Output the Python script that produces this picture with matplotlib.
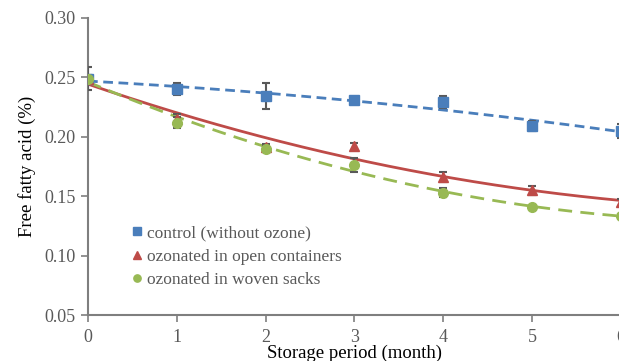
import matplotlib
matplotlib.use("Agg")
import matplotlib.pyplot as plt
import numpy as np

months = [0, 1, 2, 3, 4, 5, 6]

control = [0.249, 0.240, 0.234, 0.231, 0.229, 0.209, 0.205]
control_err = [0.010, 0.005, 0.011, 0.002, 0.005, 0.004, 0.006]

open_cont = [0.249, 0.215, 0.191, 0.192, 0.166, 0.155, 0.145]
open_err = [0.003, 0.004, 0.003, 0.003, 0.004, 0.004, 0.003]

woven = [0.249, 0.212, 0.190, 0.176, 0.153, 0.141, 0.133]
woven_err = [0.003, 0.005, 0.003, 0.006, 0.004, 0.001, 0.002]

blue = "#4a7ebb"
red = "#be4b48"
green = "#98b954"
grey = "#595959"

plt.rcParams['font.family'] = ['Liberation Serif', 'DejaVu Serif']

fig = plt.figure(figsize=(6.19, 3.61), dpi=100)
ax = fig.add_axes([88 / 619, 1 - 315 / 361, (621 - 88) / 619, (315 - 18) / 361])

x = np.array(months)
xs = np.linspace(0, 6, 200)

# trend lines (2nd order polynomial fits)
for y, col, ls in [(control, blue, (0, (3.5, 2))), (open_cont, red, '-'), (woven, green, (0, (5, 3)))]:
    c = np.polyfit(x, y, 2)
    ax.plot(xs, np.polyval(c, xs), color=col, lw=2, linestyle=ls, zorder=2)

ax.errorbar(x, control, yerr=control_err, fmt='s', color=blue, ms=7,
            ecolor=grey, elinewidth=1.5, capsize=3, capthick=1.5, zorder=3,
            label='control (without ozone)')
ax.errorbar(x, open_cont, yerr=open_err, fmt='^', color=red, ms=7,
            ecolor=grey, elinewidth=1.5, capsize=3, capthick=1.5, zorder=3,
            label='ozonated in open containers')
ax.errorbar(x, woven, yerr=woven_err, fmt='o', color=green, ms=7,
            ecolor=grey, elinewidth=1.5, capsize=3, capthick=1.5, zorder=3,
            label='ozonated in woven sacks')

ax.set_xlim(0, 6)
ax.set_ylim(0.05, 0.30)
ax.set_xticks(months)
ax.set_yticks([0.05, 0.10, 0.15, 0.20, 0.25, 0.30])
ax.set_yticklabels(['0.05', '0.10', '0.15', '0.20', '0.25', '0.30'])

for s in ['top', 'right']:
    ax.spines[s].set_visible(False)
for s in ['left', 'bottom']:
    ax.spines[s].set_color('#7f7f7f')
    ax.spines[s].set_linewidth(1.5)
ax.tick_params(axis='both', colors='#7f7f7f', labelcolor='#595959', labelsize=13,
               length=5, width=1.2)
ax.tick_params(axis='x', pad=5)
ax.tick_params(axis='y', pad=4)

ax.set_xlabel('Storage period (month)', fontsize=13.5, labelpad=-1)
ax.set_ylabel('Free fatty acid (%)', fontsize=13.5, labelpad=6)

handles, labels = ax.get_legend_handles_labels()
handles = [h[0] for h in handles]
leg = ax.legend(handles, labels, loc='upper left', bbox_to_anchor=(0.048, 0.355),
                frameon=False, fontsize=12.5, handletextpad=0.1, handlelength=0.9,
                labelspacing=0.42, markerscale=0.75)
for t in leg.get_texts():
    t.set_color('#595959')

fig.savefig('out.png', dpi=100)
